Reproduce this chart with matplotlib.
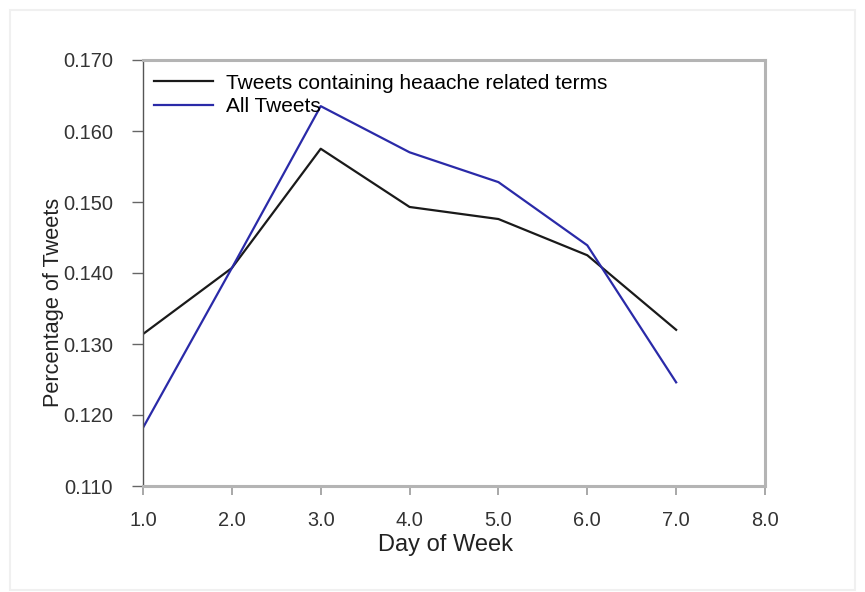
import matplotlib
matplotlib.use('Agg')
import matplotlib.pyplot as plt
from matplotlib.patches import Rectangle

plt.rcParams['font.family'] = ['Liberation Sans', 'DejaVu Sans']

days = [1, 2, 3, 4, 5, 6, 7]
headache = [0.1314, 0.1407, 0.1575, 0.1493, 0.1476, 0.1425, 0.1320]
all_tweets = [0.1182, 0.1407, 0.1635, 0.1570, 0.1528, 0.1439, 0.1246]
xticks = [1, 2, 3, 4, 5, 6, 7, 8]
yticks = [0.110, 0.120, 0.130, 0.140, 0.150, 0.160, 0.170]

fig = plt.figure(figsize=(8.65, 5.92), dpi=100)
# faint page frame
fig.patches.append(Rectangle((10 / 865, 2 / 592), 845 / 865, 580 / 592,
                             transform=fig.transFigure, fill=False,
                             edgecolor='#f0f0f0', linewidth=1.5))
ax = fig.add_axes([143 / 865, 1 - 486 / 592, 622 / 865, 426 / 592])

ax.plot(days, headache, color='#1a1a1a', lw=1.6,
        label='Tweets containing heaache related terms')
ax.plot(days, all_tweets, color='#2a2aa8', lw=1.6, label='All Tweets')

ax.set_xlim(1, 8)
ax.set_ylim(0.110, 0.170)
ax.set_xticks(xticks)
ax.set_xticklabels([f'{v:.1f}' for v in xticks])
ax.set_yticks(yticks)
ax.set_yticklabels([f'{v:.3f}' for v in yticks])

for s in ['top', 'right', 'bottom']:
    ax.spines[s].set_color('#b4b4b4')
    ax.spines[s].set_linewidth(2.2)
ax.spines['left'].set_color('#555555')
ax.spines['left'].set_linewidth(1.0)
ax.tick_params(axis='y', direction='out', length=8, width=1.0,
               color='#666666', labelsize=14.4, labelcolor='#333333', pad=13.5)
ax.tick_params(axis='x', direction='out', length=6.5, width=1.2,
               color='#999999', labelsize=14.4, labelcolor='#333333', pad=11.5)

ax.set_xlabel('Day of Week', fontsize=17, color='#222222')
ax.xaxis.set_label_coords(0.487, -0.112)
ax.set_ylabel('Percentage of Tweets', fontsize=15.7, color='#222222')
ax.yaxis.set_label_coords(-0.127, 0.432)

ax.legend(loc='upper left', frameon=False, fontsize=15, handlelength=2.84,
          handletextpad=0.62, labelspacing=0.22, borderaxespad=0,
          borderpad=0, bbox_to_anchor=(0.0177, 0.968))

fig.savefig('out.png', dpi=100)
